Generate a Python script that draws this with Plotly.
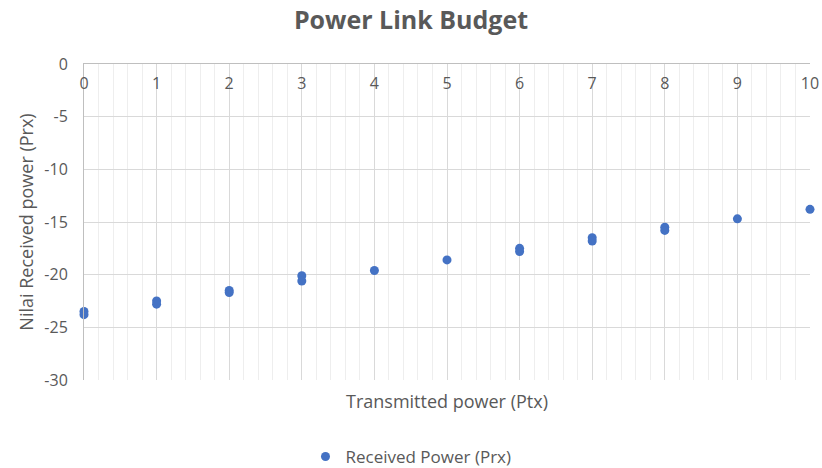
import plotly.graph_objects as go

ptx = [0, 0, 1, 1, 2, 2, 3, 3, 4, 5, 6, 6, 7, 7, 8, 8, 9, 10]
prx = [-23.5, -23.8, -22.5, -22.8, -21.5, -21.7, -20.1, -20.6, -19.6, -18.6,
       -17.5, -17.8, -16.5, -16.8, -15.5, -15.8, -14.7, -13.8]

x_ticks = list(range(0, 11))
y_ticks = [0, -5, -10, -15, -20, -25, -30]
y_labels = ["0", "-5", "-10", "-15", "-20", "-25", "-30"]

font_family = "Open Sans, Noto Sans, sans-serif"
txt = "#595959"

fig = go.Figure()
fig.add_trace(go.Scatter(
    x=ptx, y=prx, mode="markers", name="Received Power (Prx)",
    marker=dict(color="#4472C4", size=9), cliponaxis=False,
))

fig.update_layout(
    width=822, height=468,
    margin=dict(l=84, r=12, t=64, b=88),
    paper_bgcolor="white", plot_bgcolor="white",
    font=dict(family=font_family, color=txt, size=16),
    title=dict(text="<b>Power Link Budget</b>", x=0.5, xanchor="center",
               y=0.956, yanchor="middle", font=dict(size=25, color=txt)),
    showlegend=True,
    legend=dict(orientation="h", xref="container", yref="container",
                x=0.5, xanchor="center", y=0.0235, yanchor="middle",
                font=dict(size=17, color=txt), itemwidth=30),
    xaxis=dict(
        range=[0, 10], side="top", tickvals=x_ticks,
        ticklabelposition="inside", ticklabeloverflow="allow", ticks="",
        ticklabelstandoff=14,
        showgrid=True, gridcolor="#d9d9d9", gridwidth=1,
        minor=dict(dtick=0.2, showgrid=True, gridcolor="#eeeeee", gridwidth=1),
        showline=True, linecolor="#bfbfbf", linewidth=1,
        zeroline=False, tickfont=dict(size=16, color=txt), automargin=False,
    ),
    yaxis=dict(
        range=[-30, 0], tickvals=y_ticks, ticktext=y_labels, ticks="",
        ticklabeloverflow="allow", ticklabelstandoff=12,
        showgrid=True, gridcolor="#d9d9d9", gridwidth=1,
        showline=True, linecolor="#bfbfbf", linewidth=1,
        zeroline=False, tickfont=dict(size=16, color=txt), automargin=False,
        title=dict(text="Nilai Received power (Prx)", font=dict(size=18, color=txt), standoff=6),
    ),
)

fig.add_annotation(
    text="Transmitted power (Ptx)", xref="paper", yref="paper",
    x=0.5, y=-0.022, xanchor="center", yanchor="top", showarrow=False,
    font=dict(size=18, color=txt),
)

fig.write_html("out.html", config={"displayModeBar": False},
               post_script="document.body.style.margin='0';")
